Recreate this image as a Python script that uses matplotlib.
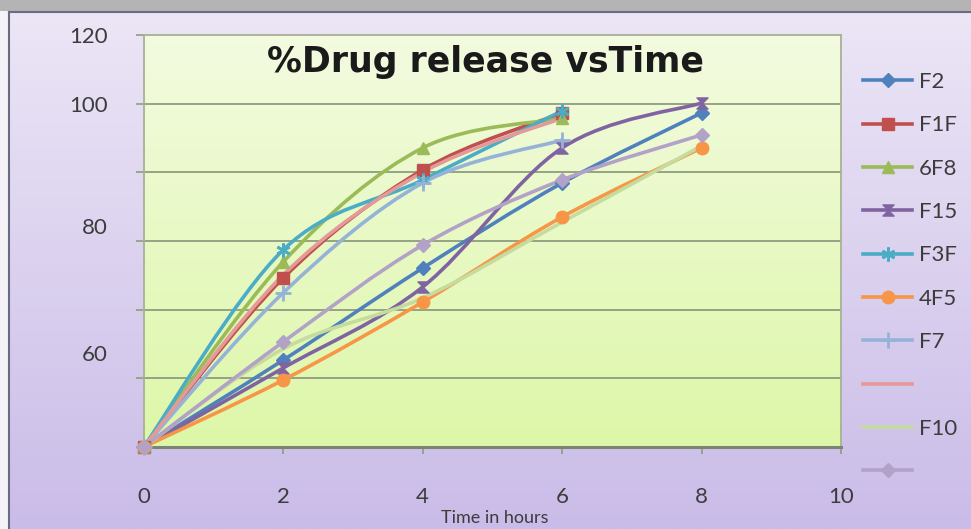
import numpy as np
import matplotlib.pyplot as plt
from matplotlib.path import Path
from matplotlib.patches import PathPatch, Rectangle
from matplotlib.lines import Line2D

plt.rcParams['font.family'] = ['Lato', 'DejaVu Sans']

# Time points (hours) and % drug release for each formulation
hours = [0, 2, 4, 6, 8]
rel_f2 = [0, 25.3, 52.1, 76.9, 97.3]
rel_f1f = [0, 49.2, 80.7, 97.3]
rel_6f8 = [0, 53.9, 87.1, 95.7]
rel_f15 = [0, 23.0, 46.6, 87.1, 100.2]
rel_f3f = [0, 57.4, 77.8, 97.9]
rel_4f5 = [0, 19.5, 42.2, 67.0, 87.1]
rel_f7 = [0, 44.9, 76.9, 89.4]
rel_s8 = [0, 50.1, 80.0, 95.8]
rel_f10 = [0, 28.6, 43.4, 65.5, 87.7]
rel_s10 = [0, 30.6, 58.8, 77.8, 90.9]

series_labels = ['F2', 'F1F', '6F8', 'F15', 'F3F', '4F5', 'F7', '', 'F10', '']

x_ticks = [0, 2, 4, 6, 8, 10]
y_grid = [0, 20, 40, 60, 80, 100, 120]
y_label_text = ['120', '100', '80', '60']
y_label_pos = [120, 100, 64.4, 27.4]

title_text = '%Drug release vsTime'
xlabel_text = 'Time in hours'

hourglass = Path([(-1, 1), (1, 1), (-1, -1), (1, -1), (-1, 1)],
                 [Path.MOVETO, Path.LINETO, Path.LINETO, Path.LINETO, Path.CLOSEPOLY])

styles = [
    dict(color='#4F81BD', marker='D', ms=7),
    dict(color='#C0504D', marker='s', ms=8),
    dict(color='#9BBB59', marker='^', ms=9),
    dict(color='#8064A2', marker=hourglass, ms=8),
    dict(color='#4BACC6', marker=(6, 2, 0), ms=10),
    dict(color='#F79646', marker='o', ms=9),
    dict(color='#95B3D7', marker='+', ms=11),
    dict(color='#E39A98', marker=None, ms=0),
    dict(color='#C6DB9E', marker=None, ms=0),
    dict(color='#B3A2C7', marker='D', ms=7),
]
series_values = [rel_f2, rel_f1f, rel_6f8, rel_f15, rel_f3f, rel_4f5,
                 rel_f7, rel_s8, rel_f10, rel_s10]


def smooth_path(xs, ys):
    """Cubic Bezier path through the points (spreadsheet-style smoothing)."""
    pts = np.column_stack([xs, ys]).astype(float)
    n = len(pts)
    verts = [pts[0]]
    codes = [Path.MOVETO]
    for i in range(n - 1):
        p_prev = pts[i - 1] if i > 0 else pts[i]
        p_next2 = pts[i + 2] if i + 2 < n else pts[i + 1]
        c1 = pts[i] + (pts[i + 1] - p_prev) / 6.0
        c2 = pts[i + 1] - (p_next2 - pts[i]) / 6.0
        verts += [c1, c2, pts[i + 1]]
        codes += [Path.CURVE4] * 3
    return Path(verts, codes)


W, H = 971, 529
fig = plt.figure(figsize=(W / 100, H / 100), dpi=100)

# figure background
bg = fig.add_axes([0, 0, 1, 1], zorder=-10)
bg.set_xlim(0, W)
bg.set_ylim(H, 0)
bg.axis('off')
grad = np.linspace(0, 1, 256)[:, None]
top_c = np.array([236, 230, 246]) / 255
bot_c = np.array([202, 188, 232]) / 255
img = top_c + (bot_c - top_c) * grad
bg.imshow(img[:, None, :].repeat(2, axis=1), extent=[9, W, H, 12], aspect='auto')
bg.add_patch(Rectangle((0, 0), W, 11, color='#b4b4b4', lw=0))
bg.add_patch(Rectangle((0, 11), 9, H, color='#f4f2f6', lw=0))
bg.plot([9, W], [12, 12], color='#6a6a80', lw=1.5)
bg.plot([9, 9], [12, H], color='#6a6a80', lw=1.5)

ax = fig.add_axes([143.7 / W, 1 - 447 / H, (841 - 143.7) / W, (447 - 35) / H])
ax.set_xlim(0, 10)
ax.set_ylim(0, 120)

# plot-area gradient
pg_top = np.array([243, 251, 224]) / 255
pg_bot = np.array([221, 247, 168]) / 255
pimg = pg_top + (pg_bot - pg_top) * np.linspace(0, 1, 256)[:, None]
ax.imshow(pimg[:, None, :].repeat(2, axis=1), extent=[0, 10, 0, 120],
          aspect='auto', zorder=0)

for v in y_grid[1:-1]:
    ax.axhline(v, color='#8f9c80', lw=1.3, zorder=1)

handles = []
for vals, st in zip(series_values, styles):
    xs = hours[:len(vals)]
    ax.add_patch(PathPatch(smooth_path(xs, vals), fill=False,
                           edgecolor=st['color'], lw=2.6, zorder=3,
                           clip_on=False, capstyle='round'))
    if st['marker'] is not None:
        mew = 2.0 if st['marker'] in ('+', (6, 2, 0)) else 1.0
        ax.plot(xs, vals, ls='none', marker=st['marker'], ms=st['ms'],
                color=st['color'], mec=st['color'], mew=mew, zorder=4,
                clip_on=False)
    handles.append(Line2D([], [], color=st['color'], lw=2.6,
                          marker=st['marker'], ms=st['ms'],
                          mew=2.0 if st['marker'] in ('+', (6, 2, 0)) else 1.0))

ax.yaxis.remove_overlapping_locs = False
ax.set_xticks(x_ticks)
ax.set_xticklabels([str(t) for t in x_ticks])
ax.set_yticks(y_grid)
ax.set_yticklabels([])
ax.set_yticks(y_label_pos, minor=True)
ax.set_yticklabels(y_label_text, minor=True)
ax.tick_params(axis='y', which='major', length=6, color='#8f9c80', width=1.2)
ax.tick_params(axis='y', which='minor', length=0, pad=26,
               labelsize=16, labelcolor='#3c3c3c')
ax.tick_params(axis='x', length=5, color='#8f9c80', width=1.2, pad=24,
               labelsize=16, labelcolor='#3c3c3c')

for s in ('left', 'top', 'right'):
    ax.spines[s].set_color('#a7b096')
    ax.spines[s].set_linewidth(1.3)
ax.spines['bottom'].set_color('#7c8474')
ax.spines['bottom'].set_linewidth(2.2)

ax.text(0.49, 0.935, title_text, transform=ax.transAxes, ha='center',
        va='center', fontsize=25, fontweight='bold', color='#1a1a1a',
        family=['DejaVu Sans'], zorder=5)

fig.text(495 / W, 1 - 518 / H, xlabel_text, ha='center', va='center',
         fontsize=13, color='#3c3c3c')

leg = fig.legend(handles, series_labels, loc='upper left',
                 bbox_to_anchor=(852 / W, 1 - 61 / H), frameon=False,
                 fontsize=16, handlelength=2.2, handletextpad=0.3,
                 labelspacing=1.05, borderpad=0, labelcolor='#3c3c3c')

fig.savefig('out.png', dpi=100)
